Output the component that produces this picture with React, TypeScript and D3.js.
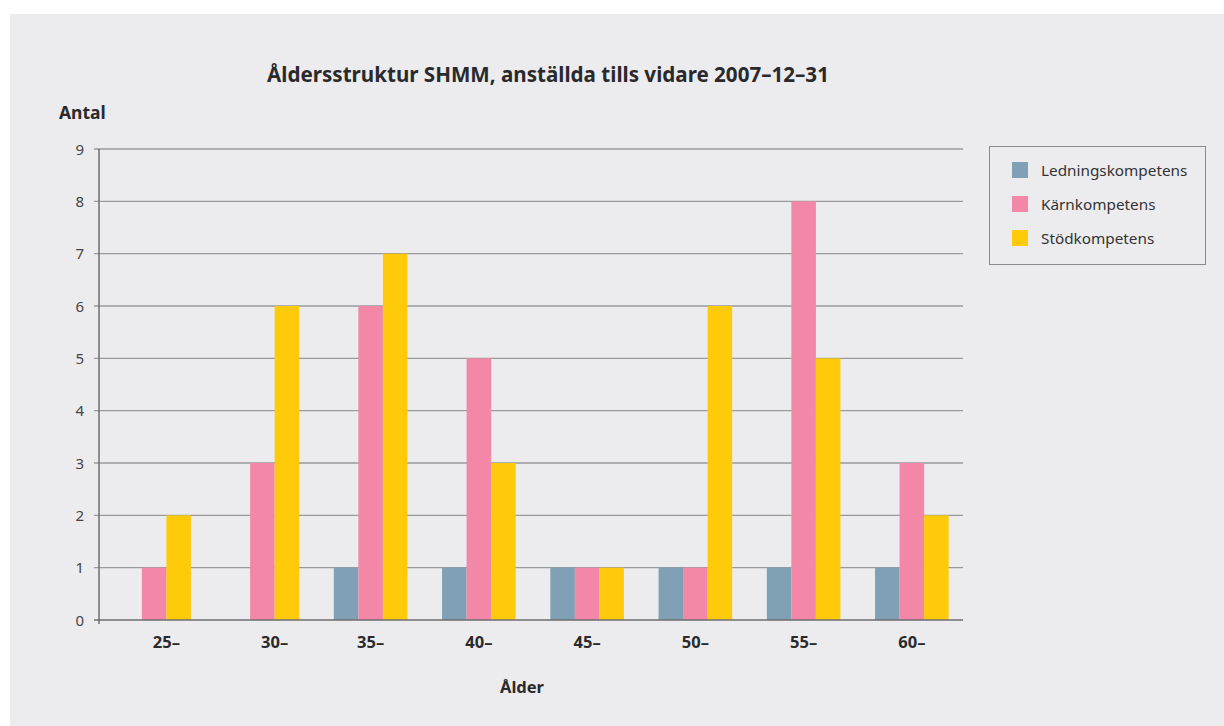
import { useEffect, useRef } from 'react';
import * as d3 from 'd3';

// Age groups and head counts per competence type
const categories = ['25–', '30–', '35–', '40–', '45–', '50–', '55–', '60–'];
const seriesNames = ['Ledningskompetens', 'Kärnkompetens', 'Stödkompetens'];
const ledning = [0, 0, 1, 1, 1, 1, 1, 1];
const karn = [1, 3, 6, 5, 1, 1, 8, 3];
const stod = [2, 6, 7, 3, 1, 6, 5, 2];
const yTicks = [0, 1, 2, 3, 4, 5, 6, 7, 8, 9];
const colors = ['#80a0b5', '#f387a8', '#ffca0a'];

const W = 1224;
const H = 726;
const FONT = '"Noto Sans", "DejaVu Sans", sans-serif';

export default function App() {
  const ref = useRef<SVGSVGElement>(null);

  useEffect(() => {
    if (!ref.current) return;
    const svg = d3.select(ref.current);
    svg.selectAll('*').remove();

    const values = [ledning, karn, stod];

    svg.append('rect').attr('width', W).attr('height', H).attr('fill', '#fff');
    svg.append('rect').attr('x', 10).attr('y', 14).attr('width', W - 10).attr('height', H - 14).attr('fill', '#ececee');

    const x0 = d3.scaleBand<string>().domain(categories).range([100, 966]).paddingInner(0.32).paddingOuter(0.16);
    const x1 = d3.scaleBand<number>().domain([0, 1, 2]).range([0, x0.bandwidth()]);
    const y = d3.scaleLinear().domain([0, 9]).range([620, 149]);

    const axisX = 99;
    const plotRight = 963;

    // grid lines
    svg.append('g')
      .selectAll('line')
      .data(yTicks.filter((t) => t > 0))
      .join('line')
      .attr('x1', axisX - 5)
      .attr('x2', plotRight)
      .attr('y1', (d) => y(d))
      .attr('y2', (d) => y(d))
      .attr('stroke', '#9a9a9c')
      .attr('stroke-width', 1.3);

    // bars
    const groups = svg.append('g')
      .selectAll('g')
      .data(categories)
      .join('g')
      .attr('transform', (c) => `translate(${x0(c)},0)`);

    groups.selectAll('rect')
      .data((c, i) => values.map((s, k) => ({ k, v: s[i] })).filter((d) => d.v > 0))
      .join('rect')
      .attr('x', (d) => x1(d.k)!)
      .attr('width', x1.bandwidth())
      .attr('y', (d) => y(d.v))
      .attr('height', (d) => y(0) - y(d.v))
      .attr('fill', (d) => colors[d.k]);

    // axes
    svg.append('line')
      .attr('x1', axisX).attr('x2', axisX)
      .attr('y1', y(9)).attr('y2', y(0) + 4)
      .attr('stroke', '#6e6e70').attr('stroke-width', 1.5);
    svg.append('line')
      .attr('x1', axisX - 5).attr('x2', plotRight)
      .attr('y1', y(0)).attr('y2', y(0))
      .attr('stroke', '#6e6e70').attr('stroke-width', 1.5);

    // y tick labels
    svg.append('g')
      .selectAll('text')
      .data(yTicks)
      .join('text')
      .attr('x', 84)
      .attr('y', (d) => y(d) + 5.5)
      .attr('text-anchor', 'end')
      .attr('font-family', FONT)
      .attr('font-size', 15)
      .attr('fill', '#444446')
      .text((d) => d);

    // x labels centred under the drawn bars of each group
    svg.append('g')
      .selectAll('text')
      .data(categories)
      .join('text')
      .attr('x', (c, i) => {
        const ks = values.map((s, k) => (s[i] > 0 ? k : -1)).filter((k) => k >= 0);
        const centers = ks.map((k) => x0(c)! + x1(k)! + x1.bandwidth() / 2);
        return d3.mean(centers)!;
      })
      .attr('y', 648)
      .attr('text-anchor', 'middle')
      .attr('font-family', FONT)
      .attr('font-size', 16.5)
      .attr('font-weight', 700)
      .attr('fill', '#2a2a2c')
      .text((d) => d);

    // titles
    svg.append('text')
      .attr('x', 548).attr('y', 82)
      .attr('text-anchor', 'middle')
      .attr('font-family', FONT).attr('font-size', 20.6).attr('font-weight', 700)
      .attr('fill', '#2a2a2c')
      .text('Åldersstruktur SHMM, anställda tills vidare 2007–12–31');
    svg.append('text')
      .attr('x', 59).attr('y', 119)
      .attr('font-family', FONT).attr('font-size', 17.5).attr('font-weight', 700)
      .attr('fill', '#2a2a2c')
      .text('Antal');
    svg.append('text')
      .attr('x', 522).attr('y', 693)
      .attr('text-anchor', 'middle')
      .attr('font-family', FONT).attr('font-size', 16.5).attr('font-weight', 700)
      .attr('fill', '#2a2a2c')
      .text('Ålder');

    // legend
    const lg = svg.append('g');
    lg.append('rect')
      .attr('x', 989.5).attr('y', 146.5).attr('width', 216).attr('height', 118)
      .attr('fill', 'none').attr('stroke', '#8a8a8c').attr('stroke-width', 1);
    const items = lg.selectAll('g.item')
      .data(seriesNames)
      .join('g')
      .attr('class', 'item')
      .attr('transform', (d, i) => `translate(1012,${162 + i * 34})`);
    items.append('rect').attr('width', 16).attr('height', 16).attr('fill', (d, i) => colors[i]);
    items.append('text')
      .attr('x', 29).attr('y', 13.5)
      .attr('font-family', FONT).attr('font-size', 15.3)
      .attr('fill', '#333335')
      .text((d) => d);
  }, []);

  return (
    <div style={{ position: 'absolute', left: 0, top: 0 }}>
      <svg ref={ref} width={W} height={H} style={{ display: 'block' }} />
    </div>
  );
}
